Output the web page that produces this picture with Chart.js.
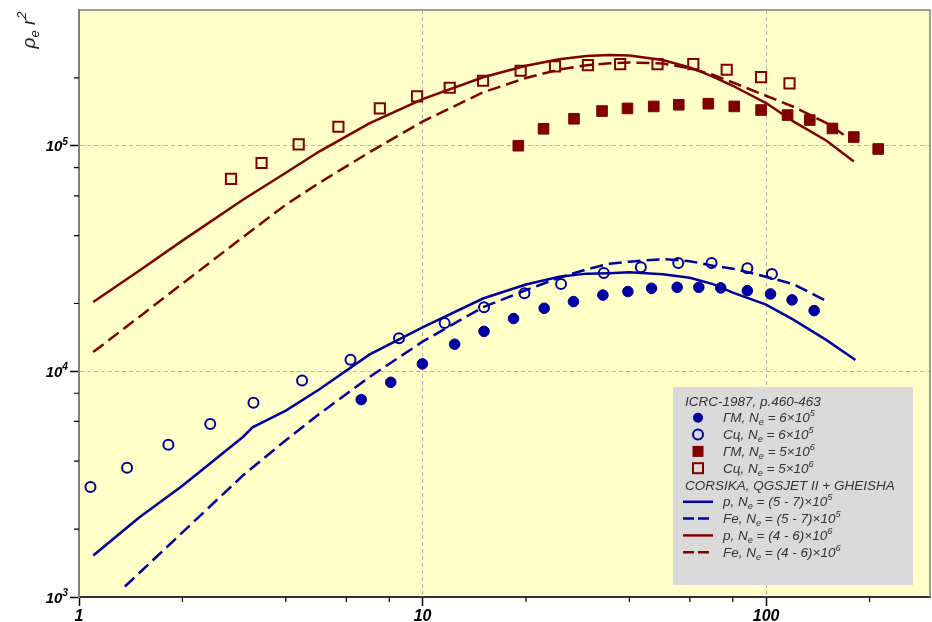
<!DOCTYPE html>
<html>
<head>
<meta charset="utf-8">
<script src="https://cdn.jsdelivr.net/npm/chart.js@4"></script>
<style>
  html, body { margin: 0; padding: 0; background: #fff; }
</style>
</head>
<body>
<canvas id="chart" width="932" height="622"></canvas>
<script>
// ICRC-1987, p.460-463 measurements
const gmSmallX = [6.63, 8.08, 9.99, 12.4, 15.1, 18.4, 22.6, 27.5, 33.5, 39.6, 46.4, 55.1, 63.7, 73.8, 88.2, 103, 119, 138]
const gmSmallY = [7500, 8950, 10800, 13200, 15050, 17150, 19050, 20400, 21800, 22600, 23350, 23600, 23600, 23450, 22800, 22050, 20750, 18600]

const scSmallX = [1.08, 1.38, 1.82, 2.41, 3.22, 4.46, 6.17, 8.54, 11.6, 15.1, 19.8, 25.3, 33.7, 43.2, 55.5, 69.4, 88.2, 104]
const scSmallY = [3070, 3740, 4730, 5850, 7270, 9120, 11260, 14020, 16370, 19230, 22180, 24420, 27320, 28920, 30250, 30250, 28630, 27040]

const gmBigX = [19.0, 22.5, 27.6, 33.3, 39.5, 47.1, 55.7, 67.9, 80.8, 96.7, 115.5, 134, 156, 180, 212]
const gmBigY = [100100, 119000, 131800, 142600, 146500, 149500, 152100, 153700, 149500, 144100, 136900, 130100, 119400, 109400, 96800]

const scBigX = [2.77, 3.40, 4.36, 5.69, 7.51, 9.64, 12.0, 15.0, 19.3, 24.3, 30.3, 37.6, 48.3, 61.4, 76.8, 96.7, 117]
const scBigY = [71300, 83900, 101400, 121500, 146500, 165500, 180900, 194300, 215100, 224800, 228000, 230400, 230400, 230400, 217400, 201700, 189000]

// CORSIKA, QGSJET II + GHEISHA
const pSmallX = [1.1, 1.5, 2, 3, 3.2, 4, 5, 7, 10, 15, 20, 25, 30, 35, 40, 50, 60, 70, 80, 100, 120, 150, 182]
const pSmallY = [1527, 2257, 3110, 5121, 5650, 6705, 8307, 11870, 15680, 21040, 24290, 26300, 27130, 27260, 27490, 26980, 26030, 24370, 22340, 19770, 16960, 13760, 11240]

const feSmallX = [1.36, 1.5, 2, 3, 4, 5, 7, 10, 15, 20, 25, 30, 35, 40, 50, 60, 70, 80, 100, 120, 149]
const feSmallY = [1113, 1281, 1933, 3454, 4957, 6468, 9435, 13550, 19270, 22920, 26020, 28310, 30030, 30650, 31450, 30810, 29430, 28540, 26300, 24370, 20590]

const pBigX = [1.1, 1.5, 2, 3, 4, 5, 7, 10, 15, 20, 25, 30, 35, 40, 50, 60, 70, 80, 100, 120, 150, 180]
const pBigY = [20300, 28000, 38000, 57700, 76000, 94300, 125700, 161200, 201400, 226400, 241900, 249900, 252500, 251500, 239900, 222500, 202500, 184600, 154700, 128300, 105300, 85300]

const feBigX = [1.1, 1.5, 2, 3, 4, 5, 7, 10, 15, 20, 25, 30, 35, 40, 50, 60, 70, 80, 100, 120, 150, 175]
const feBigY = [12180, 17490, 24490, 39360, 54830, 68430, 93580, 128100, 172600, 199800, 217800, 227600, 232300, 234200, 231600, 220700, 206500, 190900, 166700, 149000, 126200, 107500]

// axis ticks
const xTicks = [1, 2, 4, 6, 8, 10, 20, 40, 60, 80, 100, 200]
const yTicks = [1000, 2000, 4000, 6000, 8000, 10000, 20000, 40000, 60000, 80000, 100000, 200000]

const BLUE = '#0000a0'
const RED = '#800000'
const FONT = '"Liberation Sans", Arial, sans-serif'

const pts = (xs, ys) => xs.map((x, i) => ({x: x, y: ys[i]}))
const isDecade = v => Math.abs(Math.log10(v) - Math.round(Math.log10(v))) < 1e-6

function richWidth(ctx, parts, size, weight) {
    let w = 0
    parts.forEach(([t, m]) => {
        ctx.font = `italic ${weight || ''} ${m ? size * 0.68 : size}px ${FONT}`
        w += ctx.measureText(t).width
    })
    return w
}

function drawRich(ctx, x, y, parts, size, align, weight) {
    const w = richWidth(ctx, parts, size, weight)
    let cx = align === 'center' ? x - w / 2 : align === 'right' ? x - w : x
    parts.forEach(([t, m]) => {
        ctx.font = `italic ${weight || ''} ${m ? size * 0.68 : size}px ${FONT}`
        const dy = m === 'sub' ? size * 0.22 : m === 'sup' ? -size * 0.45 : 0
        ctx.fillText(t, cx, y + dy)
        cx += ctx.measureText(t).width
    })
}

const legendRows = [
    {kind: 'head', parts: [['ICRC-1987, p.460-463', '']]},
    {kind: 'circle', fill: true, color: BLUE, parts: [['ГМ, N', ''], ['e', 'sub'], [' = 6×10', ''], ['5', 'sup']]},
    {kind: 'circle', fill: false, color: BLUE, parts: [['Сц, N', ''], ['e', 'sub'], [' = 6×10', ''], ['5', 'sup']]},
    {kind: 'square', fill: true, color: RED, parts: [['ГМ, N', ''], ['e', 'sub'], [' = 5×10', ''], ['6', 'sup']]},
    {kind: 'square', fill: false, color: RED, parts: [['Сц, N', ''], ['e', 'sub'], [' = 5×10', ''], ['6', 'sup']]},
    {kind: 'head', parts: [['CORSIKA, QGSJET II + GHEISHA', '']]},
    {kind: 'line', dash: [], color: BLUE, parts: [['p, N', ''], ['e', 'sub'], [' = (5 - 7)×10', ''], ['5', 'sup']]},
    {kind: 'line', dash: [11, 4], color: BLUE, parts: [['Fe, N', ''], ['e', 'sub'], [' = (5 - 7)×10', ''], ['5', 'sup']]},
    {kind: 'line', dash: [], color: RED, parts: [['p, N', ''], ['e', 'sub'], [' = (4 - 6)×10', ''], ['6', 'sup']]},
    {kind: 'line', dash: [11, 4], color: RED, parts: [['Fe, N', ''], ['e', 'sub'], [' = (4 - 6)×10', ''], ['6', 'sup']]}
]

const decor = {
    id: 'decor',
    beforeDraw(chart) {
        const {ctx, chartArea: a} = chart
        ctx.save()
        ctx.fillStyle = '#ffffc8'
        ctx.fillRect(a.left, a.top, a.right - a.left, a.bottom - a.top)
        ctx.restore()
    },
    afterDraw(chart) {
        const {ctx, chartArea: a} = chart
        const xs = chart.scales.x, ys = chart.scales.y
        ctx.save()

        // top and right frame
        ctx.strokeStyle = '#808080'
        ctx.lineWidth = 1.5
        ctx.beginPath()
        ctx.moveTo(a.left, a.top)
        ctx.lineTo(a.right, a.top)
        ctx.lineTo(a.right, a.bottom)
        ctx.stroke()

        // minor ticks
        ctx.strokeStyle = '#000'
        ctx.lineWidth = 1.2
        ctx.beginPath()
        xTicks.filter(v => !isDecade(v)).forEach(v => {
            const px = xs.getPixelForValue(v)
            ctx.moveTo(px, a.bottom)
            ctx.lineTo(px, a.bottom + 5)
        })
        yTicks.filter(v => !isDecade(v)).forEach(v => {
            const py = ys.getPixelForValue(v)
            ctx.moveTo(a.left - 5, py)
            ctx.lineTo(a.left, py)
        })
        ctx.stroke()

        // y tick labels with superscript exponents
        ctx.fillStyle = '#000'
        ctx.textBaseline = 'alphabetic'
        yTicks.filter(isDecade).forEach(v => {
            const py = ys.getPixelForValue(v)
            const e = String(Math.round(Math.log10(v)))
            drawRich(ctx, a.left - 11, py + 5.5, [['10', ''], [e, 'sup']], 15, 'right', 'bold')
        })

        // y axis title
        ctx.save()
        ctx.translate(30, 30)
        ctx.rotate(-Math.PI / 2)
        ctx.fillStyle = '#222'
        drawRich(ctx, 0, 5, [['ρ', ''], ['e', 'sub'], [' r', ''], ['2', 'sup']], 19, 'center')
        ctx.restore()

        // legend box
        ctx.fillStyle = '#dadada'
        ctx.fillRect(673, 387, 240, 198)
        legendRows.forEach((r, i) => {
            const cy = 401 + 16.8 * i
            ctx.fillStyle = r.color || '#333'
            ctx.strokeStyle = r.color || '#333'
            ctx.lineWidth = 2
            ctx.setLineDash([])
            if (r.kind === 'circle') {
                ctx.beginPath()
                ctx.arc(698, cy, 5, 0, Math.PI * 2)
                if (r.fill) ctx.fill(); else ctx.stroke()
            } else if (r.kind === 'square') {
                if (r.fill) ctx.fillRect(692.5, cy - 5.5, 11, 11)
                else ctx.strokeRect(693, cy - 5, 10, 10)
            } else if (r.kind === 'line') {
                ctx.lineWidth = 2.5
                ctx.setLineDash(r.dash)
                ctx.beginPath()
                ctx.moveTo(683, cy)
                ctx.lineTo(713, cy)
                ctx.stroke()
                ctx.setLineDash([])
            }
            ctx.fillStyle = '#333'
            const tx = r.kind === 'head' ? 685 : 723
            drawRich(ctx, tx, cy + 4.5, r.parts, 13.5, 'left')
        })
        ctx.restore()
    }
}

const gridColor = c => (c.tick && isDecade(c.tick.value) && c.index > 0) ? '#b4b4b4' : 'rgba(0,0,0,0)'
const tickColor = c => (c.tick && isDecade(c.tick.value)) ? '#000' : 'rgba(0,0,0,0)'

function markerSet(label, data, style, color, filled, radius) {
    return {
        label: label,
        data: data,
        showLine: false,
        pointStyle: style,
        pointRadius: radius,
        pointBackgroundColor: filled ? color : 'rgba(0,0,0,0)',
        pointBorderColor: color,
        pointBorderWidth: filled ? 1 : 2
    }
}

function lineSet(label, data, color, dash) {
    return {
        label: label,
        data: data,
        showLine: true,
        borderColor: color,
        borderWidth: 2.5,
        borderDash: dash,
        pointRadius: 0,
        tension: 0,
        fill: false
    }
}

new Chart(document.getElementById('chart').getContext('2d'), {
    type: 'scatter',
    data: {
        datasets: [
            markerSet('ГМ, Ne = 6×10^5', pts(gmSmallX, gmSmallY), 'circle', BLUE, true, 5.3),
            markerSet('Сц, Ne = 6×10^5', pts(scSmallX, scSmallY), 'circle', BLUE, false, 5),
            markerSet('ГМ, Ne = 5×10^6', pts(gmBigX, gmBigY), 'rect', RED, true, 7.5),
            markerSet('Сц, Ne = 5×10^6', pts(scBigX, scBigY), 'rect', RED, false, 7.2),
            lineSet('p, Ne = (5 - 7)×10^5', pts(pSmallX, pSmallY), BLUE, []),
            lineSet('Fe, Ne = (5 - 7)×10^5', pts(feSmallX, feSmallY), BLUE, [13, 6]),
            lineSet('p, Ne = (4 - 6)×10^6', pts(pBigX, pBigY), RED, []),
            lineSet('Fe, Ne = (4 - 6)×10^6', pts(feBigX, feBigY), RED, [13, 6])
        ]
    },
    options: {
        responsive: false,
        animation: false,
        layout: {autoPadding: false, padding: {top: 10, right: 2, left: 0, bottom: 0}},
        plugins: {legend: {display: false}, tooltip: {enabled: false}},
        scales: {
            x: {
                type: 'logarithmic',
                min: 1,
                max: 300,
                afterBuildTicks: s => { s.ticks = xTicks.map(v => ({value: v})) },
                afterFit: s => { s.height = 25 },
                ticks: {
                    autoSkip: false,
                    maxRotation: 0,
                    padding: 1,
                    color: '#000',
                    font: {family: FONT, size: 16, style: 'italic', weight: 'bold'},
                    callback: v => isDecade(v) ? String(Math.round(v)) : ''
                },
                grid: {color: gridColor, tickColor: tickColor, tickLength: 9, tickWidth: 1.5, lineWidth: 1, tickBorderDash: []},
                border: {display: true, color: '#333', width: 2, dash: [4, 3]}
            },
            y: {
                type: 'logarithmic',
                min: 1000,
                max: 400000,
                afterBuildTicks: s => { s.ticks = yTicks.map(v => ({value: v})) },
                afterFit: s => { s.width = 79 },
                ticks: {
                    autoSkip: false,
                    padding: 1,
                    // labels with exponents are drawn by the decor plugin
                    callback: () => ''
                },
                grid: {color: gridColor, tickColor: tickColor, tickLength: 9, tickWidth: 1.5, lineWidth: 1, tickBorderDash: []},
                border: {display: true, color: '#808080', width: 2, dash: [4, 3]}
            }
        }
    },
    plugins: [decor]
})
</script>
</body>
</html>
